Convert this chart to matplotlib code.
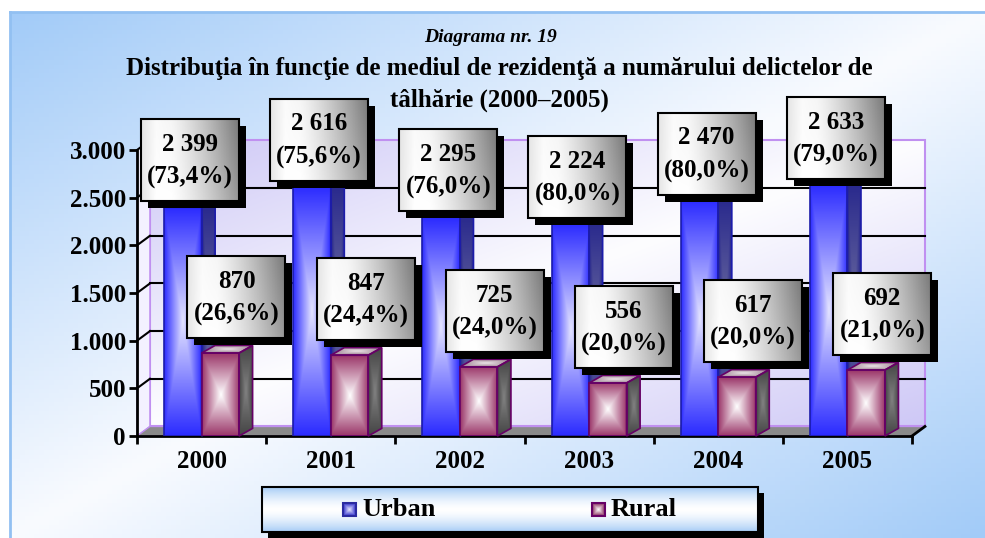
import numpy as np
import matplotlib
matplotlib.use("Agg")
import matplotlib.pyplot as plt
from matplotlib.patches import Rectangle, Polygon
from matplotlib.colors import to_rgb

# Date
years = ["2000", "2001", "2002", "2003", "2004", "2005"]
urban = [2399, 2616, 2295, 2224, 2470, 2633]
rural = [870, 847, 725, 556, 617, 692]
urban_pct = [73.4, 75.6, 76.0, 80.0, 80.0, 79.0]
rural_pct = [26.6, 24.4, 24.0, 20.0, 20.0, 21.0]
yticks = [0, 500, 1000, 1500, 2000, 2500, 3000]
ytick_labels = ["0", "500", "1.000", "1.500", "2.000", "2.500", "3.000"]
series_names = ["Urban", "Rural"]

FONT = "Liberation Serif"
W, H = 985, 538


def rect_grad(c_edge, c_mid, nx=80, ny=160, power=1.0):
    # gradient "from center" ca in Excel
    u = np.abs(np.linspace(-1, 1, nx))
    v = np.abs(np.linspace(-1, 1, ny))
    t = np.maximum(u[None, :], v[:, None]) ** power
    e, m = np.array(to_rgb(c_edge)), np.array(to_rgb(c_mid))
    return m + (e - m) * t[..., None]


def diag_grad(c_edge, c_mid, nx=200, ny=120):
    u = np.linspace(0, 1, nx)
    v = np.linspace(0, 1, ny)
    t = np.abs(u[None, :] + v[:, None] - 1)
    e, m = np.array(to_rgb(c_edge)), np.array(to_rgb(c_mid))
    return m + (e - m) * t[..., None]


fig = plt.figure(figsize=(W / 100, H / 100), dpi=100)
fig.patch.set_facecolor("white")

# fundal
ax_bg = fig.add_axes([0, 0, 1, 1], zorder=0)
ax_bg.set_xlim(0, W)
ax_bg.set_ylim(H, 0)
ax_bg.axis("off")
ax_bg.imshow(diag_grad("#a2cbf8", "#f9fbff"), extent=(10, W, H, 12), aspect="auto")
ax_bg.plot([10, W], [12, 12], color="#92c0f2", lw=2)
ax_bg.plot([10, 10], [12, H], color="#92c0f2", lw=2)
ax_bg.set_xlim(0, W)
ax_bg.set_ylim(H, 0)

# axa principala
ax = fig.add_axes([137 / W, (H - 436) / H, 775 / W, 286 / H], zorder=1)
ax.patch.set_alpha(0)
x = np.arange(len(years))
dx, dy = 0.1, 100  # adancime perete
bdx, bdy = 0.105, 80  # adancime coloane
bw = 0.29

# perete
wall = ax.imshow(diag_grad("#cec8f6", "#fdfdff"), extent=(-0.4, 5.6, dy, 3000 + dy),
                 aspect="auto", zorder=0.5)
wall.set_clip_on(False)
ax.add_patch(Rectangle((-0.4, dy), 6.0, 3000, fc="none", ec="#c090f0", lw=1.5,
                       zorder=0.6, clip_on=False))
ax.add_patch(Polygon([(-0.5, 0), (-0.4, dy), (-0.4, 3000 + dy), (-0.5, 3000)],
                     closed=True, fc="#f3f1ff", ec="#c090f0", lw=1, zorder=0.6, clip_on=False))
ax.add_patch(Polygon([(-0.5, 0), (5.5, 0), (5.5 + dx, dy), (-0.4, dy)], closed=True,
                     fc="#8a8a8a", ec="#c090f0", lw=1, zorder=0.7, clip_on=False))
ax.plot([5.5, 5.5 + dx], [0, dy], color="black", lw=2, zorder=2.6, clip_on=False)
for v in yticks[1:]:
    if v < 3000:
        ax.plot([-0.4, 5.5 + dx], [v + dy, v + dy], color="black", lw=1.5, zorder=0.8,
                clip_on=False)
    ax.plot([-0.5, -0.4], [v, v + dy], color="black", lw=1.5, zorder=0.8, clip_on=False)

# coloane
def draw_bars(xs, vals, c_edge, c_mid, edge, side_edge, side_mid, top_edge, top_mid, z):
    bars = ax.bar(xs, vals, width=bw, align="edge", fc="none", ec=edge, lw=1.2,
                  zorder=z + 0.2)
    for rect in bars.patches:
        x0, h = rect.get_x(), rect.get_height()
        x1 = x0 + rect.get_width()
        im = ax.imshow(rect_grad(c_edge, c_mid), extent=(x0, x1, 0, h), aspect="auto",
                       zorder=z)
        im.set_clip_path(rect)
        side = Polygon([(x1, 0), (x1 + bdx, bdy), (x1 + bdx, h + bdy), (x1, h)], closed=True,
                       fc="none", ec=edge, lw=1.2, zorder=z + 0.2, clip_on=False)
        ax.add_patch(side)
        ims = ax.imshow(rect_grad(side_edge, side_mid, 20, 100),
                        extent=(x1, x1 + bdx, 0, h + bdy), aspect="auto", zorder=z + 0.1)
        ims.set_clip_path(side)
        top = Polygon([(x0, h), (x1, h), (x1 + bdx, h + bdy), (x0 + bdx, h + bdy)], closed=True,
                      fc="none", ec=edge, lw=1.2, zorder=z + 0.2, clip_on=False)
        ax.add_patch(top)
        imt = ax.imshow(rect_grad(top_edge, top_mid, 60, 20),
                        extent=(x0, x1 + bdx, h, h + bdy), aspect="auto", zorder=z + 0.1)
        imt.set_clip_path(top)
    return bars


draw_bars(x - bw, urban, "#2b2bff", "#e4e4ff", "#1c1caa", "#26268c", "#6a6a9e",
          "#3a3ad8", "#9090f0", 3.0)
draw_bars(x, rural, "#9a3568", "#ffffff", "#660066", "#444444", "#828282",
          "#9c8090", "#ece4e8", 3.5)

ax.set_xlim(-0.5, 5.5)
ax.set_ylim(0, 3000)

for s in ["top", "right"]:
    ax.spines[s].set_visible(False)
for s in ["left", "bottom"]:
    ax.spines[s].set_linewidth(2)
    ax.spines[s].set_zorder(2.5)
ax.set_yticks(yticks)
ax.set_yticklabels(ytick_labels, fontsize=18, fontweight="bold", family=FONT)
ax.set_xticks(np.arange(-0.5, 6, 1))
ax.set_xticklabels([])
ax.set_xticks(x, minor=True)
ax.set_xticklabels(years, minor=True, fontsize=18, fontweight="bold", family=FONT)
ax.tick_params(axis="both", which="major", length=6, width=2, direction="out")
ax.tick_params(axis="y", pad=2)
ax.tick_params(axis="x", which="minor", length=0, pad=10)

# etichete
ax_fg = fig.add_axes([0, 0, 1, 1], zorder=3)
ax_fg.set_xlim(0, W)
ax_fg.set_ylim(H, 0)
ax_fg.axis("off")
ax_fg.patch.set_alpha(0)

bu = np.linspace(0, 1, 60)
bv = np.linspace(0, 1, 40)
shade = 1 - 0.40 * np.clip((bu[None, :] - 0.3) / 0.7, 0, 1) ** 1.3 \
    - 0.12 * (1 - bv[:, None]) * bu[None, :] - 0.10 * np.clip(0.15 - bu[None, :], 0, 1) / 0.15
box_img = np.clip(np.repeat(shade[..., None], 3, axis=2), 0, 1)

BW_, BH_ = 98, 82
zc = [1.0]


def nz():
    zc[0] += 1
    return zc[0]


def label_box(cx, bottom, text):
    left, top = cx - BW_ / 2, bottom - BH_
    ax_fg.add_patch(Rectangle((left + 7, top + 7), BW_, BH_, fc="black", ec="none", zorder=nz()))
    ax_fg.imshow(box_img, extent=(left, left + BW_, bottom, top), aspect="auto", zorder=nz())
    ax_fg.add_patch(Rectangle((left, top), BW_, BH_, fc="none", ec="black", lw=1.5, zorder=nz()))
    ax_fg.text(cx, top + BH_ / 2 + 1, text, ha="center", va="center", fontsize=18,
               fontweight="bold", family=FONT, linespacing=1.55, zorder=nz())


def fmt(v, p):
    return f"{v:,}".replace(",", " ") + "\n" + f"({p:.1f}%)".replace(".", ",")


for i in range(len(years)):
    px, py = ax.transData.transform((x[i] - 0.09, urban[i]))
    label_box(px, H - py - 6, fmt(urban[i], urban_pct[i]))
for i in range(len(years)):
    px, py = ax.transData.transform((x[i] + 0.27, rural[i]))
    label_box(px, H - py - 15, fmt(rural[i], rural_pct[i]))

# legenda
lx, ly, lw_, lh = 262, 487, 496, 45
ax_fg.add_patch(Rectangle((lx + 6, ly + 6), lw_, lh, fc="black", ec="none", zorder=nz()))
lv = np.abs(np.linspace(-1, 1, 50))
lc = np.array(to_rgb("#ffffff")) + (np.array(to_rgb("#a8cdf6")) - 1) * (lv ** 1.5)[:, None]
ax_fg.imshow(np.repeat(lc[:, None, :], 10, axis=1), extent=(lx, lx + lw_, ly + lh, ly),
             aspect="auto", zorder=nz())
ax_fg.add_patch(Rectangle((lx, ly), lw_, lh, fc="none", ec="black", lw=1.5, zorder=nz()))
legend_items = [(343, "#3333cc", "#e8e8ff", "#2a2aa0"), (592, "#8a3060", "#ffffff", "#660066")]
for (mx, ce, cm, ec), name in zip(legend_items, series_names):
    ax_fg.imshow(rect_grad(ce, cm, 20, 20), extent=(mx, mx + 13, 516, 503), aspect="auto",
                 zorder=nz())
    ax_fg.add_patch(Rectangle((mx, 503), 13, 13, fc="none", ec=ec, lw=1.5, zorder=nz()))
    ax_fg.text(mx + 19, 510, name, ha="left", va="center", fontsize=19, fontweight="bold",
               family=FONT, zorder=nz())

# titlu
ax_fg.text(491, 38, "Diagrama nr. 19", ha="center", va="center", fontsize=14,
           fontweight="bold", style="italic", family=FONT, zorder=nz())
ax_fg.text(499, 68, "Distribuţia în funcţie de mediul de rezidenţă a numărului delictelor de",
           ha="center", va="center", fontsize=18, fontweight="bold", family=FONT, zorder=nz())
ax_fg.text(499, 100, "tâlhărie (2000–2005)", ha="center", va="center", fontsize=18,
           fontweight="bold", family=FONT, zorder=nz())
ax_fg.set_xlim(0, W)
ax_fg.set_ylim(H, 0)

fig.savefig("out.png", dpi=100)
